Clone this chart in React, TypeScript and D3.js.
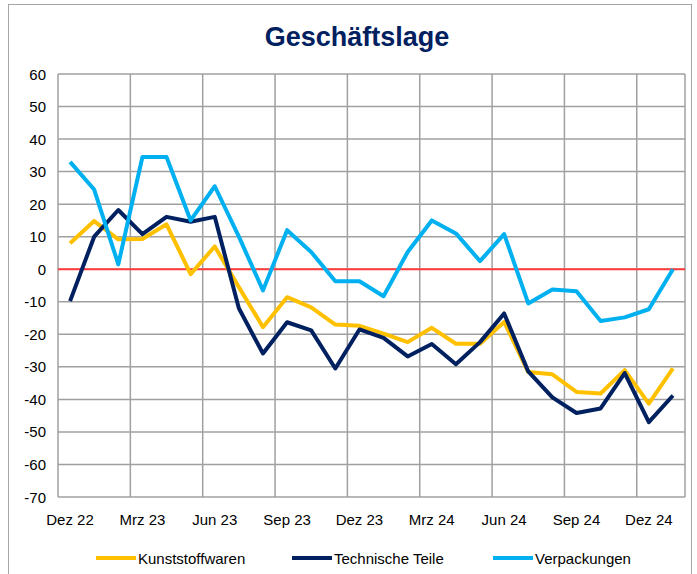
import React, { useEffect, useRef } from 'react';
import * as d3 from 'd3';

// monthly categories Dez 22 .. Jan 25
const months = ['Dez 22', 'Jan 23', 'Feb 23', 'Mrz 23', 'Apr 23', 'Mai 23', 'Jun 23', 'Jul 23', 'Aug 23',
  'Sep 23', 'Okt 23', 'Nov 23', 'Dez 23', 'Jan 24', 'Feb 24', 'Mrz 24', 'Apr 24', 'Mai 24', 'Jun 24',
  'Jul 24', 'Aug 24', 'Sep 24', 'Okt 24', 'Nov 24', 'Dez 24', 'Jan 25'];

const kunststoffwaren = [8, 14.8, 9.2, 9.3, 13.8, -1.5, 7, -5.5, -17.8, -8.6, -11.7, -17, -17.4, -19.8,
  -22.4, -18, -22.9, -22.9, -16.2, -31.6, -32.3, -37.7, -38.2, -31, -41.3, -30.5];
const technischeTeile = [-9.8, 10, 18.2, 10.8, 16.1, 14.6, 16.1, -12, -25.9, -16.3, -18.8, -30.5, -18.5,
  -21.1, -26.8, -23, -29.2, -22.4, -13.6, -31.4, -39.4, -44.2, -42.8, -31.9, -47, -38.8];
const verpackungen = [33, 24.5, 1.5, 34.5, 34.5, 15, 25.5, 10, -6.5, 12, 5.3, -3.7, -3.7, -8.3, 5.3, 15,
  11, 2.5, 10.8, -10.5, -6.2, -6.8, -15.9, -14.8, -12.3, 0];

const yTicks = [60, 50, 40, 30, 20, 10, 0, -10, -20, -30, -40, -50, -60, -70];

const series = [
  { name: 'Kunststoffwaren', color: '#FFC000', values: kunststoffwaren },
  { name: 'Technische Teile', color: '#002060', values: technischeTeile },
  { name: 'Verpackungen', color: '#00B0F0', values: verpackungen },
];

const App = () => {
  const svgRef = useRef(null);

  useEffect(() => {
    const svg = d3.select(svgRef.current);
    svg.selectAll('*').remove();
    const font = '"Liberation Sans", Arial, sans-serif';
    const left = 58, right = 685, top = 74, bottom = 497;

    // chart frame
    svg.append('rect')
      .attr('x', 8.5).attr('y', 4.5).attr('width', 683).attr('height', 600)
      .attr('fill', 'white').attr('stroke', '#a6a6a6').attr('stroke-width', 1);

    svg.append('text')
      .attr('x', 357).attr('y', 46)
      .attr('text-anchor', 'middle')
      .style('font-family', font).style('font-size', '27px').style('font-weight', 'bold')
      .attr('fill', '#002060')
      .text('Geschäftslage');

    const x = d3.scaleBand().domain(months).range([left, right]).paddingInner(0).paddingOuter(0);
    const y = d3.scaleLinear().domain([-70, 60]).range([bottom, top]);

    const g = svg.append('g');

    // horizontal gridlines
    g.selectAll('line.h').data(yTicks).enter().append('line')
      .attr('x1', left).attr('x2', right)
      .attr('y1', d => y(d)).attr('y2', d => y(d))
      .attr('stroke', '#a0a0a0').attr('stroke-width', 1.5);

    // vertical gridlines every 3 months
    const vIdx = months.map((m, i) => i).filter(i => i % 3 === 0);
    g.selectAll('line.v').data(vIdx).enter().append('line')
      .attr('x1', d => x(months[d])).attr('x2', d => x(months[d]))
      .attr('y1', top).attr('y2', bottom)
      .attr('stroke', '#a0a0a0').attr('stroke-width', 1.5);
    g.append('line')
      .attr('x1', right).attr('x2', right).attr('y1', top).attr('y2', bottom)
      .attr('stroke', '#a0a0a0').attr('stroke-width', 1.5);

    // zero line
    g.append('line')
      .attr('x1', left).attr('x2', right)
      .attr('y1', y(0)).attr('y2', y(0))
      .attr('stroke', '#FF3B3B').attr('stroke-width', 1.8);

    // y labels
    g.selectAll('text.y').data(yTicks).enter().append('text')
      .attr('x', 46).attr('y', d => y(d) + 5.5)
      .attr('text-anchor', 'end')
      .style('font-family', font).style('font-size', '15px')
      .attr('fill', '#000')
      .text(d => d);

    // x labels
    g.selectAll('text.x').data(vIdx).enter().append('text')
      .attr('x', d => x(months[d]) + x.bandwidth() / 2)
      .attr('y', 525)
      .attr('text-anchor', 'middle')
      .style('font-family', font).style('font-size', '15px')
      .attr('fill', '#000')
      .text(d => months[d]);

    const line = d3.line()
      .x((d, i) => x(months[i]) + x.bandwidth() / 2)
      .y(d => y(d));

    series.forEach(s => {
      g.append('path')
        .attr('d', line(s.values))
        .attr('fill', 'none')
        .attr('stroke', s.color)
        .attr('stroke-width', 4)
        .attr('stroke-linejoin', 'round');
    });

    // legend
    const legX = [96, 292, 493];
    series.forEach((s, i) => {
      g.append('line')
        .attr('x1', legX[i]).attr('x2', legX[i] + 40)
        .attr('y1', 558).attr('y2', 558)
        .attr('stroke', s.color).attr('stroke-width', 4);
      g.append('text')
        .attr('x', legX[i] + 42).attr('y', 563.5)
        .style('font-family', font).style('font-size', '15px')
        .attr('fill', '#000')
        .text(s.name);
    });
  }, []);

  return (
    <svg ref={svgRef} width="697" height="574" style={{ position: 'absolute', left: 0, top: 0 }}>
    </svg>
  );
};

export default App;
